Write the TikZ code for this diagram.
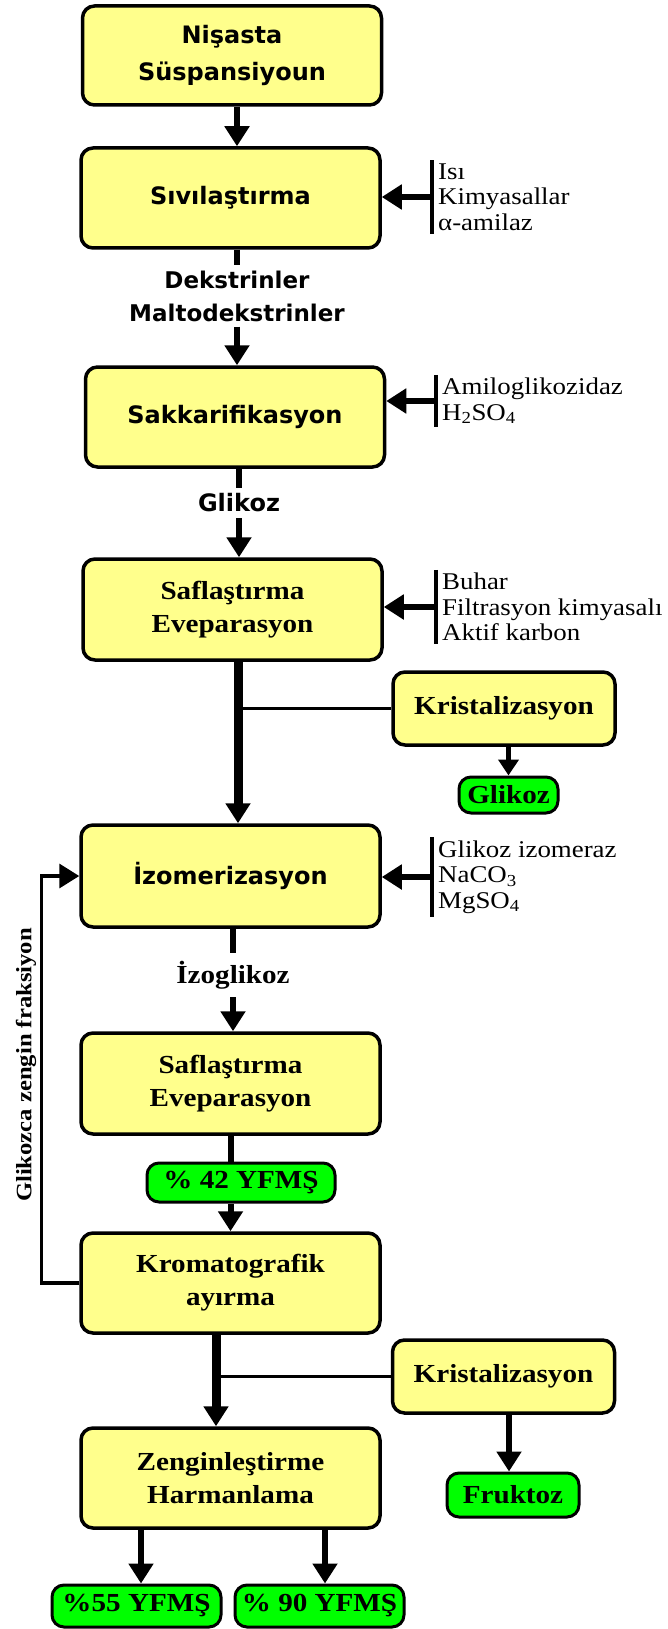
\documentclass[tikz,border=0pt]{standalone}
\usepackage{fontspec}
\setmainfont{Liberation Serif}
\newfontfamily\sansb{DejaVu Sans}
\newfontfamily\serifw[FakeStretch=1.12]{Liberation Serif}
\usetikzlibrary{arrows.meta,calc}
\definecolor{yfill}{HTML}{FFFF8C}
\definecolor{gfill}{HTML}{00FF00}
\begin{document}
\begin{tikzpicture}[x=1pt,y=-1pt,
  ybox/.style={draw, line width=3.5pt, rounded corners=12pt, fill=yfill, minimum width=299pt, minimum height=100pt, align=center, inner sep=0pt},
  kbox/.style={ybox, minimum width=222pt, minimum height=73pt},
  gbox/.style={draw, line width=3pt, rounded corners=12pt, fill=gfill, align=center, inner sep=0pt, minimum height=40pt},
  sb/.style={font=\sansb\bfseries\fontsize{24}{37}\selectfont, align=center},
  rb/.style={font=\serifw\bfseries\fontsize{26}{33}\selectfont, align=center},
  rin/.style={font=\serifw\fontsize{24}{25.5}\selectfont, align=left, anchor=west, inner xsep=6pt, inner ysep=3pt},
  arr/.style={-{Triangle[width=24pt,length=20pt]}},
  arrs/.style={-{Triangle[width=20pt,length=16pt]}},
  mainln/.style={line width=6pt},
  heavyln/.style={line width=9pt},
  lnk/.style={line width=3.5pt},
  ibar/.style={line width=4pt},
]
\fill[white] (0,0) rectangle (668,1629);
\useasboundingbox (0,0) rectangle (668,1629);

% main boxes
\node[ybox, sb, minimum height=99pt] (b1) at (232,55.5) {Nişasta\\Süspansiyoun};
\node[ybox, sb] (b2) at (230.5,198) {Sıvılaştırma};
\node[font=\sansb\bfseries\fontsize{23}{33}\selectfont, align=center, inner ysep=5pt] (dex) at (237,296) {Dekstrinler\\Maltodekstrinler};
\node[ybox, sb] (b3) at (235,417) {Sakkarifikasyon};
\node[sb, inner ysep=6pt] (glk) at (239,503) {Glikoz};
\node[ybox, rb, minimum height=101pt] (b4) at (232.5,609.5) {Saflaştırma\\Eveparasyon};
\node[kbox, rb] (k1) at (504,708.5) {Kristalizasyon};
\node[gbox, rb, minimum width=99pt, minimum height=36pt] (g1) at (508.5,795) {Glikoz};
\node[ybox, sb, minimum height=102pt] (b5) at (230.5,876) {İzomerizasyon};
\node[rb, inner ysep=8pt] (izo) at (233,975) {İzoglikoz};
\node[ybox, rb, minimum height=101pt] (b6) at (230.5,1083.5) {Saflaştırma\\Eveparasyon};
\node[gbox, rb, minimum width=188pt, minimum height=39pt] (g2) at (241,1182.5) {\% 42 YFMŞ};
\node[ybox, rb] (b7) at (230.5,1283) {Kromatografik\\ayırma};
\node[kbox, rb] (k2) at (503.5,1376.5) {Kristalizasyon};
\node[gbox, rb, minimum width=132pt, minimum height=44pt] (fr) at (513,1495) {Fruktoz};
\node[ybox, rb] (b8) at (230.5,1478) {Zenginleştirme\\Harmanlama};
\node[gbox, rb, minimum width=169pt, minimum height=42pt] (g55) at (136.5,1606) {\%55 YFMŞ};
\node[gbox, rb, minimum width=169pt, minimum height=42pt] (g90) at (319.5,1606) {\% 90 YFMŞ};

% vertical label
\node[font=\serifw\bfseries\fontsize{22}{22}\selectfont, rotate=90, inner sep=0pt] (vt) at (26,1065) {Glikozca zengin fraksiyon};

% inputs
\node[rin] (in1) at (432,197) {Isı\\Kimyasallar\\α-amilaz};
\node[rin] (in2) at (436,401) {Amiloglikozidaz\\H\textsubscript{2}SO\textsubscript{4}};
\node[rin] (in3) at (436,607) {Buhar\\Filtrasyon kimyasalı\\Aktif karbon};
\node[rin] (in4) at (432,877) {Glikoz izomeraz\\NaCO\textsubscript{3}\\MgSO\textsubscript{4}};

\foreach \i/\b in {in1/b2, in2/b3, in3/b4, in4/b5}{
  \draw[ibar] (\i.north west) -- (\i.south west);
  \draw[mainln, arr] (\i.west) -- (\i.west -| \b.east);
}

% main flow
\draw[mainln, arr] ($(b1.south)+(5,0)$) -- ($(b1.south |- b2.north)+(5,0)$);
\draw[mainln] (b2.south -| dex.north) -- (dex.north);
\draw[mainln, arr] (dex.south) -- (dex.south |- b3.north);
\draw[mainln] (b3.south -| glk.north) -- (glk.north);
\draw[mainln, arr] (glk.south) -- (glk.south |- b4.north);

\coordinate (j1) at ($(b4.south |- k1.west)+(5.5,0)$);
\draw[heavyln, arr] ($(b4.south)+(5.5,0)$) -- ($(b4.south |- b5.north)+(5.5,0)$);
\draw[lnk] (k1.west) -- (j1);
\draw[line width=5pt, arrs] (g1.north |- k1.south) -- (g1.north);

\draw[mainln] (b5.south -| izo.north) -- (izo.north);
\draw[mainln, arr] (izo.south) -- (izo.south |- b6.north);
\draw[mainln] (b6.south) -- (b6.south |- g2.north);
\draw[mainln, arr] (b6.south |- g2.south) -- (b6.south |- b7.north);

\coordinate (j2) at ($(b7.south |- k2.west)+(-14.5,0)$);
\draw[heavyln, arr] ($(b7.south)+(-14.5,0)$) -- ($(b7.south |- b8.north)+(-14.5,0)$);
\draw[lnk] (k2.west) -- (j2);
\draw[mainln, arr] ($(fr.north |- k2.south)+(-4,0)$) -- ($(fr.north)+(-4,0)$);

\draw[mainln, arr] ($(g55.north |- b8.south)+(4.5,0)$) -- ($(g55.north)+(4.5,0)$);
\draw[mainln, arr] ($(g90.north |- b8.south)+(5.5,0)$) -- ($(g90.north)+(5.5,0)$);

% feedback
\draw[lnk, arr] (b7.west) -- ++(-38,0) |- (b5.west);
\end{tikzpicture}
\end{document}
